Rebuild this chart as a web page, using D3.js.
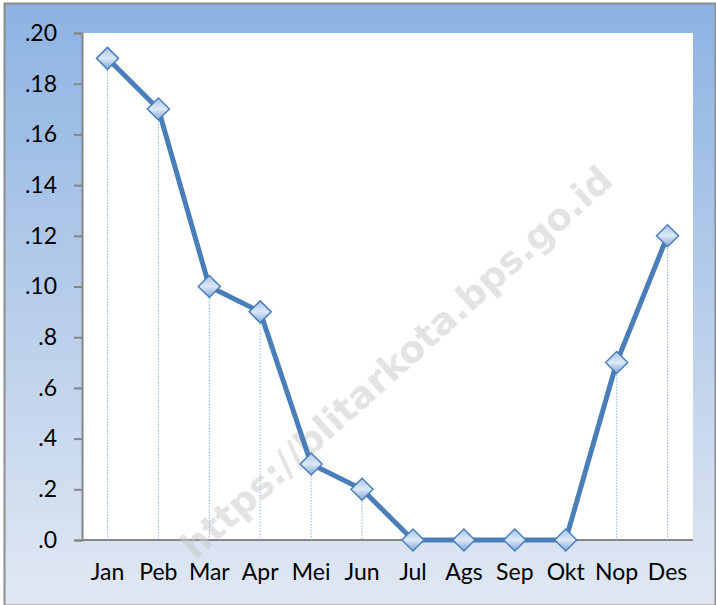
<!DOCTYPE html>
<html><head><meta charset="utf-8">
<script src="https://cdn.jsdelivr.net/npm/d3@7"></script>
<style>html,body{margin:0;padding:0;background:#fff;}</style>
</head><body>
<script>
const months = ["Jan","Peb","Mar","Apr","Mei","Jun","Jul","Ags","Sep","Okt","Nop","Des"];
const values = [0.19,0.17,0.10,0.09,0.03,0.02,0,0,0,0,0.07,0.12];
const tickValues = [0,0.02,0.04,0.06,0.08,0.10,0.12,0.14,0.16,0.18,0.20];
const tickLabels = [".0",".2",".4",".6",".8",".10",".12",".14",".16",".18",".20"];

const W=716,H=605;
const svg=d3.select("body").append("svg").attr("width",W).attr("height",H);
const defs=svg.append("defs");
const bg=defs.append("linearGradient").attr("id","bg").attr("x1",0).attr("y1",0).attr("x2",0).attr("y2",1);
bg.append("stop").attr("offset","0%").attr("stop-color","#8db3e2");
bg.append("stop").attr("offset","100%").attr("stop-color","#e1e8f3");
const mg=defs.append("linearGradient").attr("id","mk").attr("x1",0).attr("y1",0).attr("x2",0).attr("y2",1);
mg.append("stop").attr("offset","0%").attr("stop-color","#a9c5ec");
mg.append("stop").attr("offset","50%").attr("stop-color","#dce8f8");
mg.append("stop").attr("offset","100%").attr("stop-color","#7fa6da");

svg.append("rect").attr("x",4.5).attr("y",3.5).attr("width",W-5).attr("height",H-3)
  .attr("fill","url(#bg)").attr("stroke","#8c8c8c").attr("stroke-width",2);

const L=82,R=693,T=33,B=540;
svg.append("rect").attr("x",L).attr("y",T).attr("width",R-L).attr("height",B-T).attr("fill","#fff");

const x=d3.scaleBand().domain(months).range([L,R]);
const y=d3.scaleLinear().domain([0,0.20]).range([B,T]);

const font="Lato, 'Open Sans', sans-serif";
// y axis
const ya=svg.append("g").attr("transform",`translate(${L},0)`)
  .call(d3.axisLeft(y).tickValues(tickValues).tickFormat((d,i)=>tickLabels[i]).tickSize(8).tickPadding(17));
ya.select(".domain").attr("stroke","#868686").attr("stroke-width",2);
ya.selectAll(".tick line").attr("stroke","#868686").attr("stroke-width",2);
ya.selectAll("text").attr("font-family",font).attr("font-size",23).attr("fill","#000");

// x axis
const xa=svg.append("g").attr("transform",`translate(0,${B})`)
  .call(d3.axisBottom(x).tickSize(0).tickPadding(24));
xa.select(".domain").attr("stroke","#868686").attr("stroke-width",2).attr("d",`M${L},0H${R}`);
xa.selectAll("text").attr("font-family",font).attr("font-size",23).attr("fill","#000");

// drop lines
svg.append("g").selectAll("line").data(values).join("line")
  .attr("x1",(d,i)=>x(months[i])+x.bandwidth()/2).attr("x2",(d,i)=>x(months[i])+x.bandwidth()/2)
  .attr("y1",d=>y(d)).attr("y2",B)
  .attr("stroke","#8db3e2").attr("stroke-width",1).attr("stroke-dasharray","1.5,1.5");

// watermark
svg.append("text").attr("transform","translate(405,372) rotate(-42)")
  .attr("text-anchor","middle").attr("font-family","'DejaVu Sans', sans-serif").attr("font-weight","bold")
  .attr("font-size",37).attr("fill","#c8c8c8").attr("fill-opacity",0.5)
  .text("https://blitarkota.bps.go.id");

// line
const line=d3.line().x((d,i)=>x(months[i])+x.bandwidth()/2).y(d=>y(d));
svg.append("path").datum(values).attr("d",line).attr("fill","none")
  .attr("stroke","#4a7ebb").attr("stroke-width",5).attr("stroke-linejoin","round");

// markers
const s=11;
svg.append("g").selectAll("path").data(values).join("path")
  .attr("transform",(d,i)=>`translate(${x(months[i])+x.bandwidth()/2},${y(d)})`)
  .attr("d",`M0,${-s}L${s},0L0,${s}L${-s},0Z`)
  .attr("fill","url(#mk)").attr("stroke","#4a7ebb").attr("stroke-width",1.5);
</script>
</body></html>
